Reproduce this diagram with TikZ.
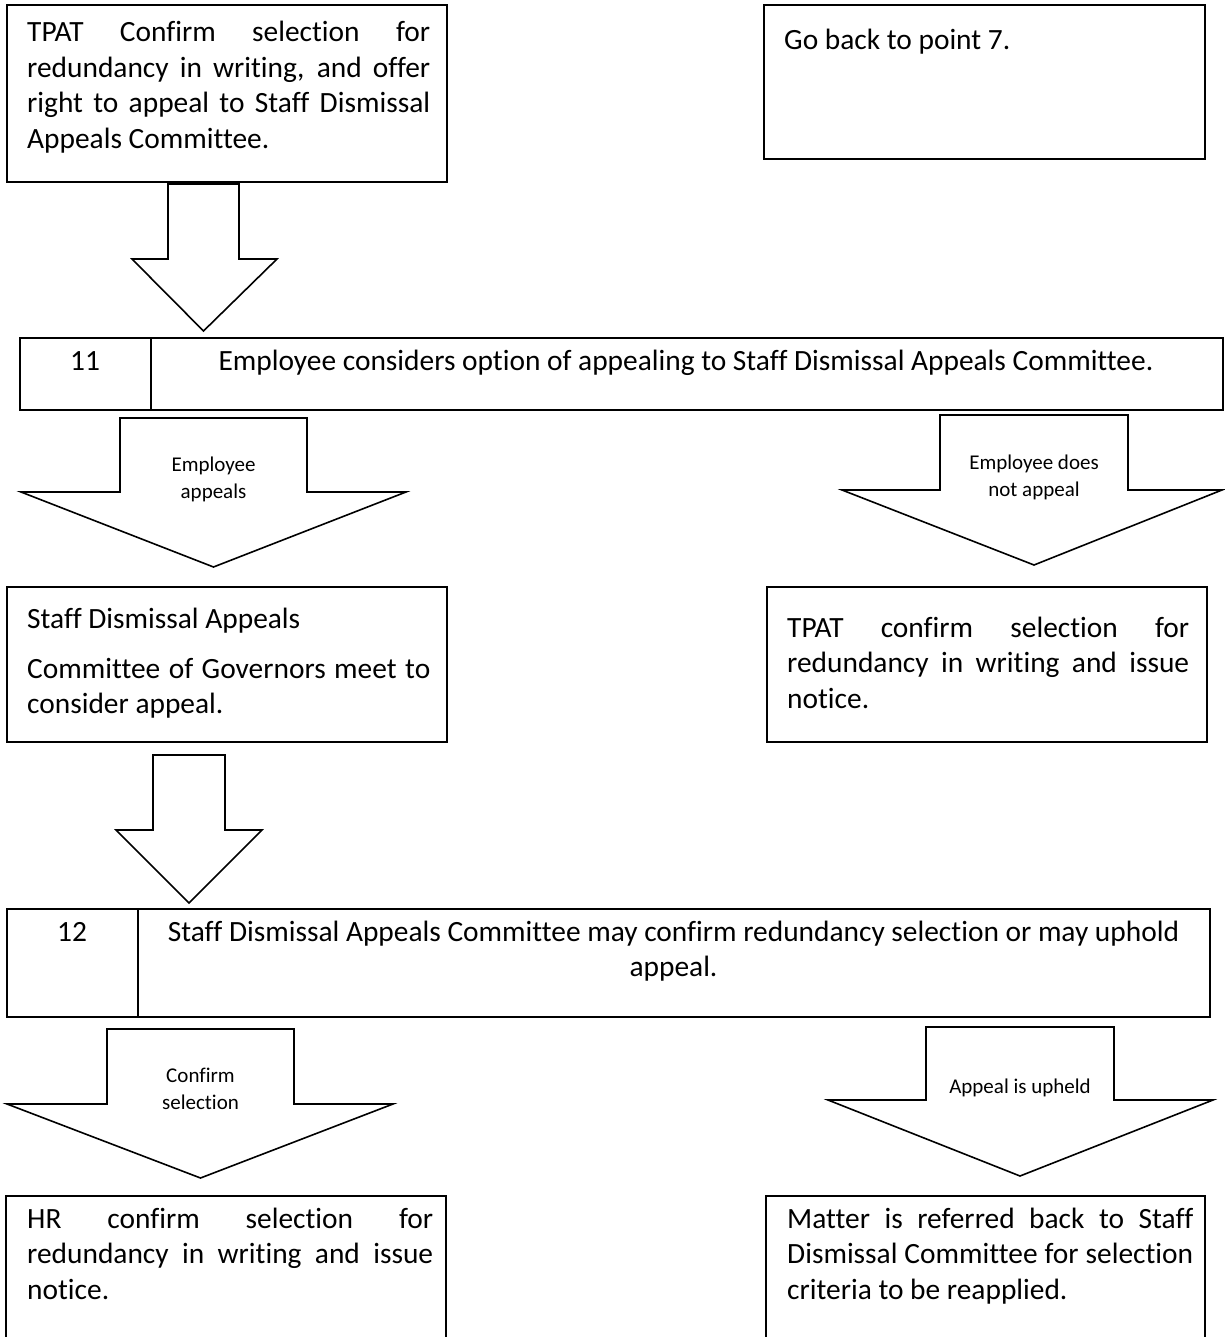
\documentclass[tikz,border=0pt]{standalone}
\usepackage{fontspec}
\setmainfont{Carlito}[Ligatures={NoCommon}]
\newcommand\blockarr[7]{% shaft left, shaft right, top, wing y, wing left, wing right, tip y
  \draw[barrow] (#1,#3) -- (#2,#3) -- (#2,#4) -- (#6,#4) -- ({(#1+#2)/2},#7) -- (#5,#4) -- (#1,#4) -- cycle;}
\begin{document}
\begin{tikzpicture}[x=1pt,y=-1pt,
  box/.style={draw, line width=2pt, inner sep=0pt, anchor=north west},
  openbox/.style={draw, line width=2pt, line cap=butt},
  barrow/.style={draw, line width=1.6pt, line join=miter},
  body/.style={inner sep=0pt, font=\fontsize{29.4}{35.5}\selectfont},
  lab/.style={inner sep=0pt, font=\fontsize{21}{27.5}\selectfont, align=flush center, text width=200pt, anchor=base},
]
\useasboundingbox (0,0) rectangle (1224,1337);
\fill[white] (0,0) rectangle (1224,1337);

% boxes
\node[box, minimum width=440pt, minimum height=177pt] (b1) at (6,4) {};
\node[box, minimum width=441pt, minimum height=154pt] (b2) at (763,4) {};
\node[box, minimum width=1203pt, minimum height=72pt] (b11) at (19,337) {};
\draw[line width=2pt] ([xshift=132pt]b11.north west) -- ([xshift=132pt]b11.south west);
\node[box, minimum width=440pt, minimum height=155pt] (b3) at (6,586) {};
\node[box, minimum width=440pt, minimum height=155pt] (b4) at (766,586) {};
\node[box, minimum width=1203pt, minimum height=108pt] (b12) at (6,908) {};
\draw[line width=2pt] ([xshift=132pt]b12.north west) -- ([xshift=132pt]b12.south west);
\coordinate (b5nw) at (6,1196);
\coordinate (b6nw) at (766,1196);
\draw[openbox] (6,1337) -- (b5nw) -- (446,1196) -- (446,1337);
\draw[openbox] (766,1337) -- (b6nw) -- (1205,1196) -- (1205,1337);

% block arrows
\blockarr{168}{239}{184}{259}{132}{277}{331}
\blockarr{120}{307}{418}{492}{21}{406}{567}
\blockarr{940}{1128}{415}{490}{842}{1222}{565}
\blockarr{153}{225}{755}{830}{116}{262}{903}
\blockarr{107}{294}{1029}{1104}{7}{393}{1178}
\blockarr{926}{1114}{1027}{1100}{828}{1213}{1176}

% texts
\node[body, text width=403pt, align=justify, anchor=base west] (t1) at (27,41.7)
  {TPAT Confirm selection for\linebreak redundancy in writing, and offer\linebreak right to appeal to Staff Dismissal\linebreak Appeals Committee.};
\node[body, anchor=base west] (t2) at (784,50) {Go back to point 7.};
\node[body, anchor=base] (n11) at (85,370) {11};
\node[body, anchor=base] (t11) at (686,370) {Employee considers option of appealing to Staff Dismissal Appeals Committee.};
\node[body, text width=403pt, align=justify, anchor=base west] (t3) at (27,628)
  {Staff Dismissal Appeals\par\vspace{14.5pt}Committee of Governors meet to\linebreak consider appeal.};
\node[body, text width=402pt, align=justify, anchor=base west] (t4) at (787,637)
  {TPAT confirm selection for\linebreak redundancy in writing and issue\linebreak notice.};
\node[body, anchor=base] (n12) at (72,941) {12};
\node[body, text width=1060pt, align=flush center, anchor=base] (t12) at (673.5,941)
  {Staff Dismissal Appeals Committee may confirm redundancy selection or may uphold\\appeal.};
\node[body, text width=406pt, align=justify, anchor=base west] (t5) at (27,1228)
  {HR confirm selection for\linebreak redundancy in writing and issue\linebreak notice.};
\node[body, text width=406pt, align=justify, anchor=base west] (t6) at (787,1228)
  {Matter is referred back to Staff\linebreak Dismissal Committee for selection\linebreak criteria to be reapplied.};

% arrow labels
\node[lab] (l1) at (213.5,471) {Employee\\appeals};
\node[lab] (l2) at (1034,469) {Employee does\\not appeal};
\node[lab] (l3) at (200.5,1082) {Confirm\\selection};
\node[lab] (l4) at (1020,1093) {Appeal is upheld};
\end{tikzpicture}
\end{document}
